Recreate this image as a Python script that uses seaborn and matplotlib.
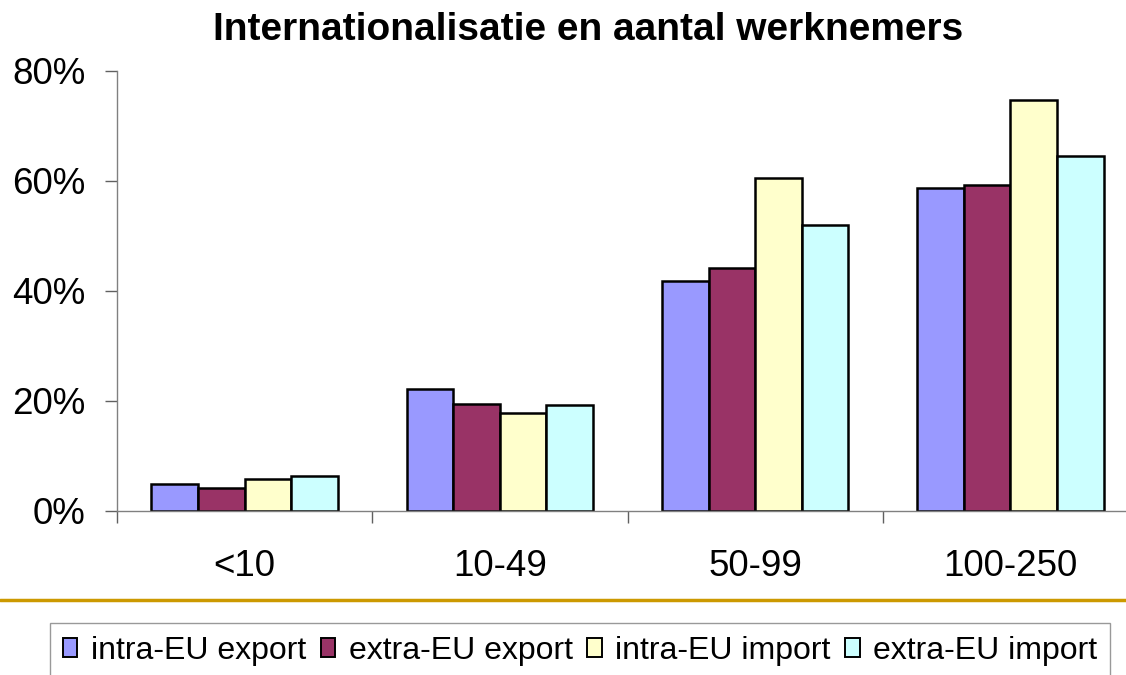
import matplotlib
matplotlib.use('Agg')
import matplotlib.pyplot as plt
import pandas as pd
import seaborn as sns
import numpy as np
from matplotlib.patches import Patch
from matplotlib.lines import Line2D
from matplotlib.ticker import PercentFormatter, FixedLocator

# data (percent of firms)
sizes = ['<10', '10-49', '50-99', '100-250']
series = ['intra-EU export', 'extra-EU export', 'intra-EU import', 'extra-EU import']
intra_export = [5.0, 22.2, 41.9, 58.8]
extra_export = [4.1, 19.5, 44.2, 59.2]
intra_import = [5.9, 17.8, 60.6, 74.7]
extra_import = [6.3, 19.2, 52.0, 64.6]
colors = ['#9999FF', '#993366', '#FFFFCC', '#CCFFFF']

df = pd.DataFrame({
    'size': sizes * 4,
    'series': np.repeat(series, len(sizes)),
    'value': intra_export + extra_export + intra_import + extra_import,
})

sns.set_style('white')
plt.rcParams['font.family'] = ['Liberation Sans', 'DejaVu Sans']
plt.rcParams['text.color'] = 'black'

fig = plt.figure(figsize=(11.26, 6.75), dpi=100)
# axes run a bit past the right edge, like the original
ax = fig.add_axes([117 / 1126, 164 / 675, 1021 / 1126, 440 / 675])

sns.barplot(data=df, x='size', y='value', hue='series', order=sizes, hue_order=series,
            palette=colors, width=0.73, gap=0, edgecolor='black', linewidth=1.8,
            saturation=1, legend=False, ax=ax)

ax.set_xlim(-0.5, 3.5)
ax.set_ylim(0, 80)
ax.set_yticks([0, 20, 40, 60, 80])
ax.yaxis.set_major_formatter(PercentFormatter(xmax=100, decimals=0))
ax.set_xlabel('')
ax.set_ylabel('')

for s in ['top', 'right']:
    ax.spines[s].set_visible(False)
for s in ['left', 'bottom']:
    ax.spines[s].set_color('#808080')
    ax.spines[s].set_linewidth(1.0)

ax.tick_params(axis='y', labelsize=26.5, length=8.6, width=1, color='#606060',
               labelcolor='black', pad=14, left=True)
ax.xaxis.set_minor_locator(FixedLocator([-0.5, 0.5, 1.5, 2.5, 3.5]))
ax.tick_params(axis='x', which='major', labelsize=26.5, length=0, pad=27, labelcolor='black')
ax.tick_params(axis='x', which='minor', length=8.6, width=1, color='#606060', bottom=True)

fig.text(588 / 1126, 1 - 40 / 675, 'Internationalisatie en aantal werknemers',
         ha='center', va='baseline', fontsize=28, fontweight='bold', color='black')

# orange separator line
fig.add_artist(Line2D([0, 1], [1 - 600 / 675, 1 - 600 / 675], color='#CC9900', linewidth=2.5))

handles = [Patch(facecolor=c, edgecolor='black', linewidth=1.4) for c in colors]
leg = fig.legend(handles, series, loc='upper left', bbox_to_anchor=(50 / 1126, 1 - 623 / 675),
                 ncol=4, fontsize=23, frameon=True, fancybox=False, borderpad=0.4,
                 handlelength=0.46, handleheight=0.5, handletextpad=0.42, columnspacing=0.45,
                 borderaxespad=0, labelcolor='black')
leg.get_frame().set_edgecolor('#808080')
leg.get_frame().set_linewidth(1.0)

fig.savefig('out.png', dpi=100)
